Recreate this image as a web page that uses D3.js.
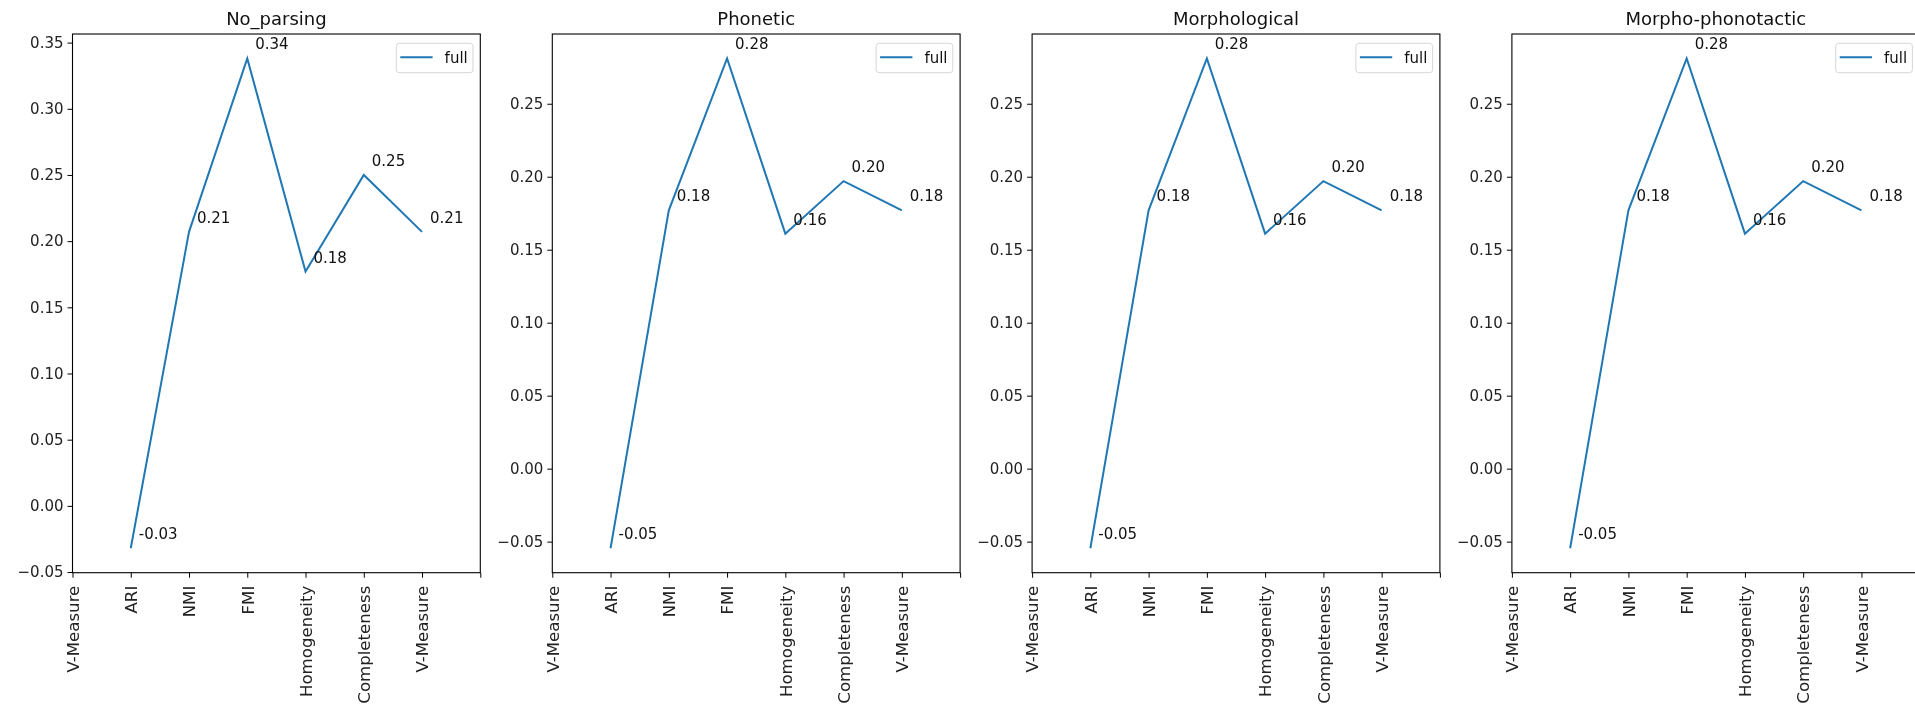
<!DOCTYPE html>
<head>
  <meta charset="utf-8">
  <script src="https://d3js.org/d3.v7.min.js"></script>
  <style>
    body {
      margin:0;position:fixed;top:0;right:0;bottom:0;left:0;
      background-color: white;
      font-family: "DejaVu Sans", sans-serif;
    }
    .tick text { font-family: "DejaVu Sans", sans-serif; fill: #222; }
    .ytick text { font-size: 15px; }
    .xtick text { font-size: 16.6px; }
    .tick line { stroke: #000; }
    .title { font-size: 18px; fill: #111; }
    .note, .legendText { font-size: 15px; fill: #111; }
  </style>
</head>

<body>
  <script>
    // values
    var metrics = ["ARI", "NMI", "FMI", "Homogeneity", "Completeness", "V-Measure"];
    var xTickLabels = ["V-Measure", "ARI", "NMI", "FMI", "Homogeneity", "Completeness", "V-Measure", ""];
    var titles = ["No_parsing", "Phonetic", "Morphological", "Morpho-phonotactic"];
    var noParsing = [-0.032, 0.207, 0.338, 0.177, 0.250, 0.207];
    var phonetic = [-0.0545, 0.177, 0.281, 0.161, 0.197, 0.177];
    var morphological = [-0.0545, 0.177, 0.281, 0.161, 0.197, 0.177];
    var morphoPhonotactic = [-0.0545, 0.177, 0.281, 0.161, 0.197, 0.177];
    var seriesName = "full";

    var panels = [noParsing, phonetic, morphological, morphoPhonotactic];

    var svg = d3.select("body").append("svg")
      .attr("width", 1915)
      .attr("height", 704)

    var left0 = 72.5, step = 479.8, w = 407.8, plotTop = 34, plotBottom = 572.7;
    var fmtTick = d3.format(".2f");
    var fmtNote = d3.formatLocale({decimal: ".", thousands: ",", grouping: [3], currency: ["", ""], minus: "-"}).format(".2f");

    panels.forEach(function(vals, p) {
      var x0 = left0 + p * step;
      var g = svg.append("g").attr("transform", "translate(" + x0 + ",0)");

      var lo = d3.min(vals), hi = d3.max(vals), pad = (hi - lo) * 0.05;
      var y = d3.scaleLinear().domain([lo - pad, hi + pad]).range([plotBottom, plotTop]);
      var x = d3.scaleLinear().domain([0, 7]).range([0, w]);

      // y axis
      var ya = g.append("g").attr("class", "ytick")
        .call(d3.axisLeft(y).ticks(8).tickSize(5).tickPadding(4).tickFormat(fmtTick));
      ya.select(".domain").remove();

      // x axis with rotated labels
      var xa = g.append("g").attr("class", "xtick")
        .attr("transform", "translate(0," + plotBottom + ")")
        .call(d3.axisBottom(x).tickValues(d3.range(8)).tickSize(5)
          .tickFormat(function(i) { return xTickLabels[i]; }));
      xa.select(".domain").remove();
      xa.selectAll("text")
        .attr("transform", "rotate(-90)")
        .attr("text-anchor", "end")
        .attr("x", -13)
        .attr("y", 0)
        .attr("dy", "0.35em");

      // frame
      g.append("rect")
        .attr("x", 0).attr("y", plotTop)
        .attr("width", w).attr("height", plotBottom - plotTop)
        .attr("fill", "none").attr("stroke", "#000").attr("stroke-width", 1.1);

      var line = d3.line()
        .x(function(d, i) { return x(i + 1); })
        .y(function(d) { return y(d); });

      g.append("path")
        .datum(vals)
        .attr("d", line)
        .attr("fill", "none")
        .attr("stroke", "#1f77b4")
        .attr("stroke-width", 2);

      g.selectAll(".note").data(vals).enter()
        .append("text")
        .attr("class", "note")
        .attr("x", function(d, i) { return x(i + 1) + 8; })
        .attr("y", function(d) { return y(d) - 9; })
        .text(function(d) { return fmtNote(d); });

      g.append("text")
        .attr("class", "title")
        .attr("x", w / 2)
        .attr("y", 25)
        .attr("text-anchor", "middle")
        .text(titles[p]);

      // legend
      var lg = g.append("g").attr("transform", "translate(" + (w - 84) + ",43.3)");
      lg.append("rect")
        .attr("width", 76.7).attr("height", 29.4)
        .attr("rx", 3).attr("ry", 3)
        .attr("fill", "white").attr("fill-opacity", 0.8)
        .attr("stroke", "#d6d6d6").attr("stroke-width", 1);
      lg.append("line")
        .attr("x1", 4).attr("x2", 36.3)
        .attr("y1", 14).attr("y2", 14)
        .attr("stroke", "#1f77b4").attr("stroke-width", 2);
      lg.append("text")
        .attr("class", "legendText")
        .attr("x", 48.3).attr("y", 19.5)
        .text(seriesName);
    });
  </script>
</body>
